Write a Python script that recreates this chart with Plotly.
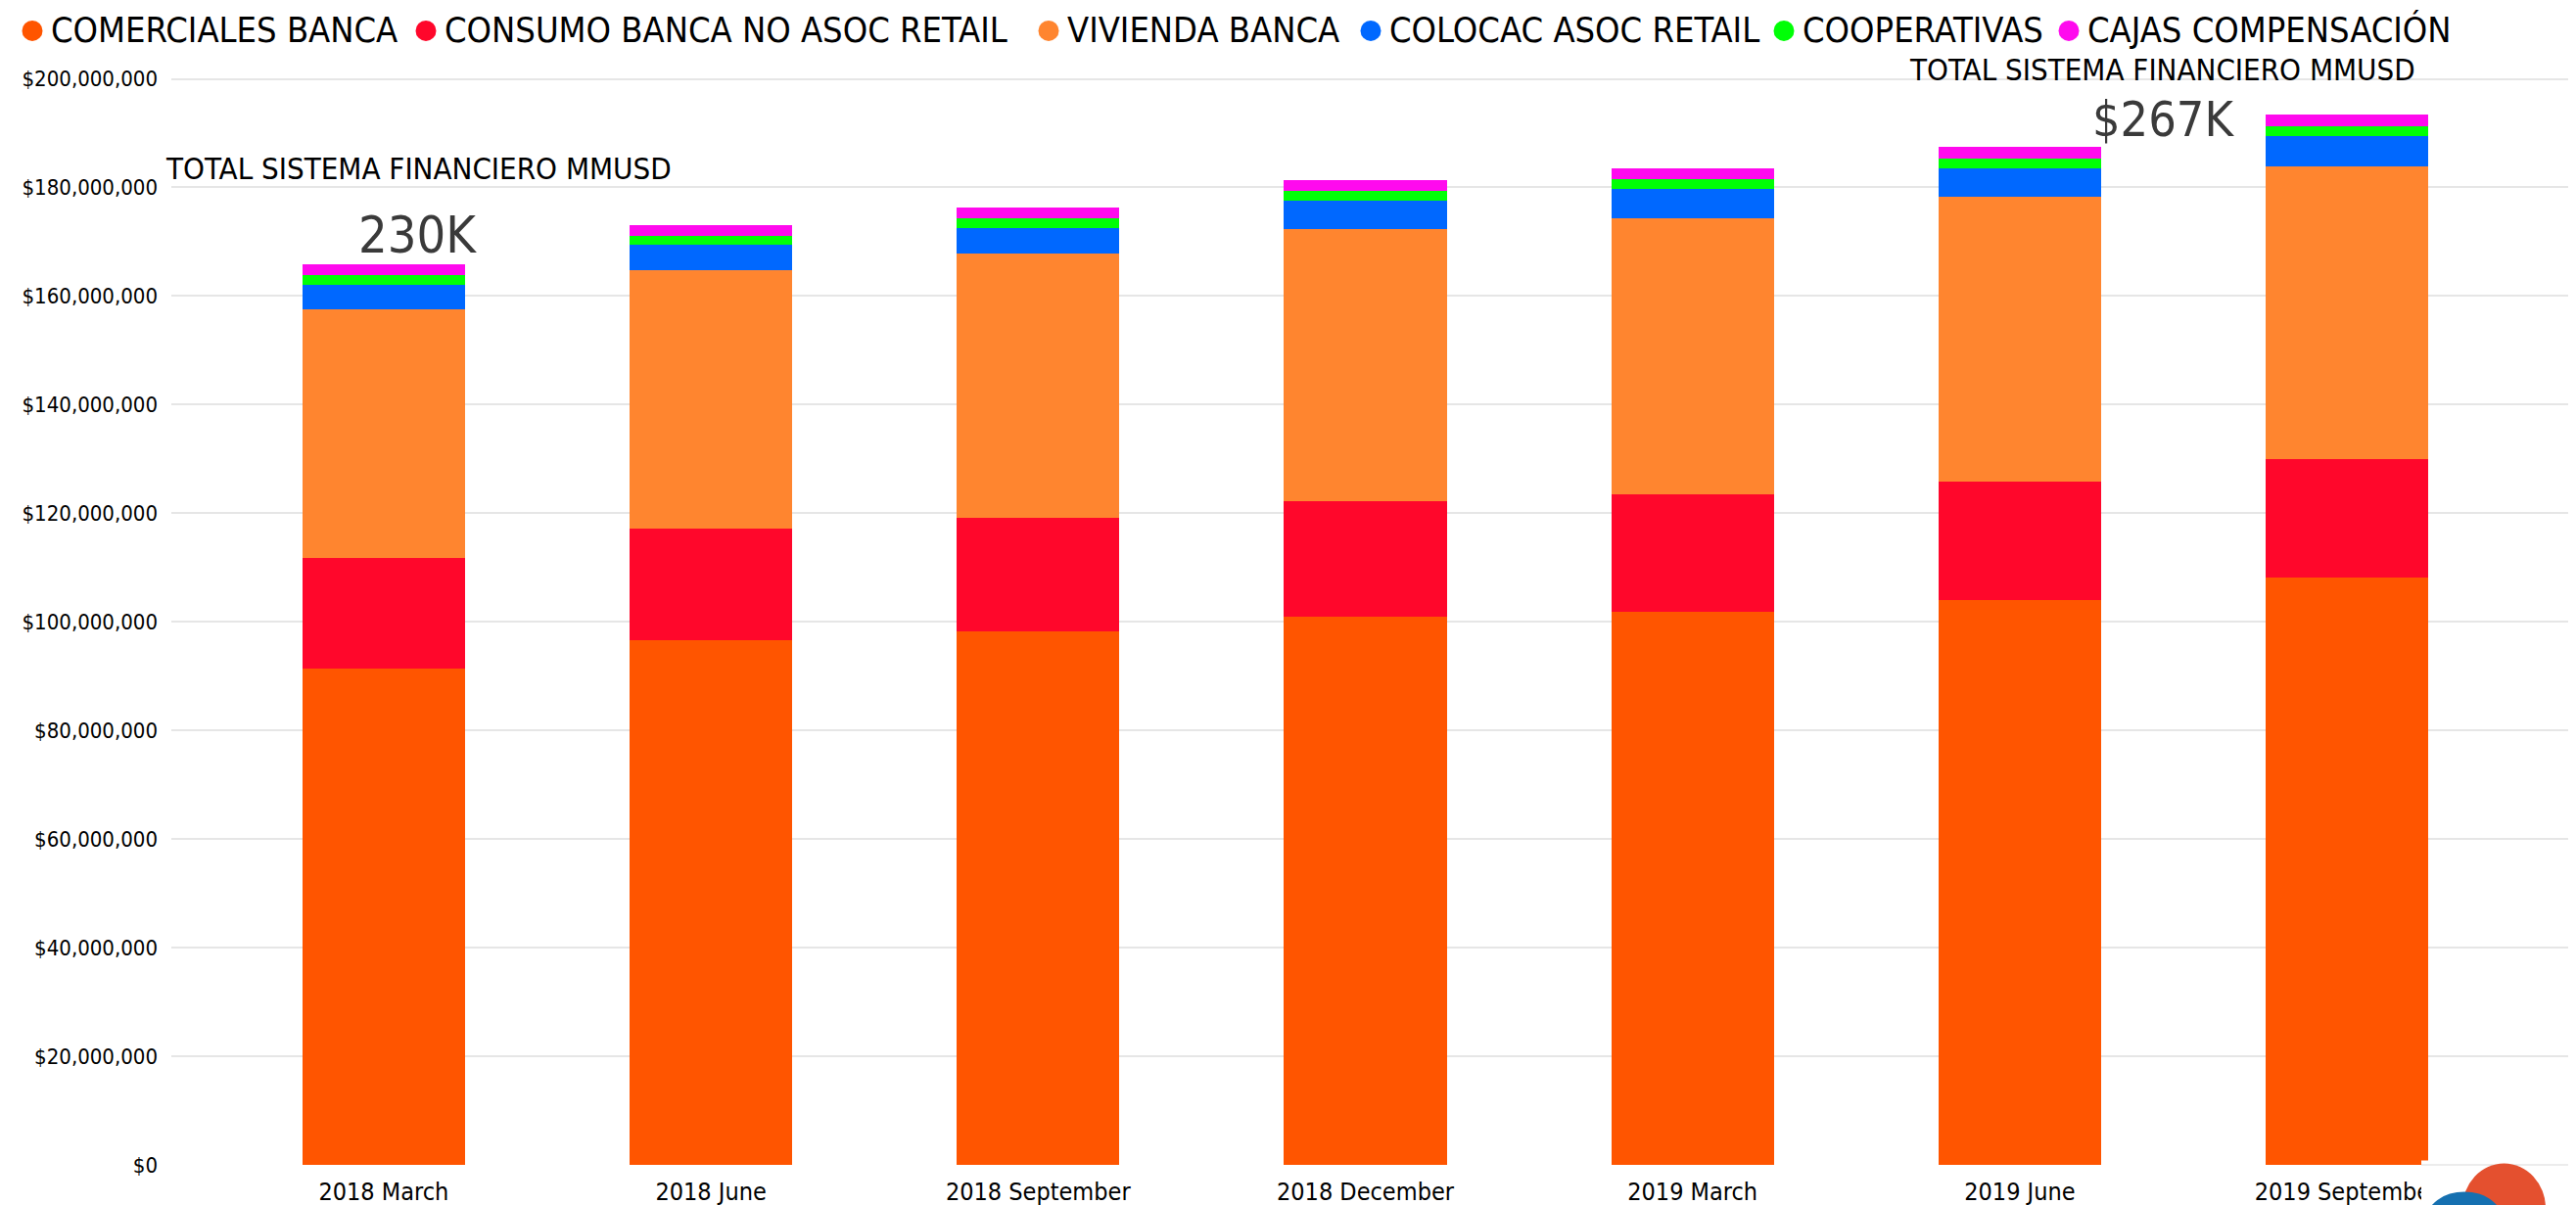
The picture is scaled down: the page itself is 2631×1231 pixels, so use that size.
import plotly.graph_objects as go

categories = ["2018 March", "2018 June", "2018 September", "2018 December",
              "2019 March", "2019 June", "2019 September"]

comerciales_banca = [91.4e6, 96.6e6, 98.3e6, 101.0e6, 101.9e6, 104.0e6, 108.2e6]
consumo_banca_no_asoc_retail = [20.4e6, 20.6e6, 20.9e6, 21.3e6, 21.6e6, 21.9e6, 21.8e6]
vivienda_banca = [45.8e6, 47.6e6, 48.7e6, 50.0e6, 50.8e6, 52.4e6, 53.9e6]
colocac_asoc_retail = [4.5e6, 4.6e6, 4.6e6, 5.2e6, 5.5e6, 5.3e6, 5.6e6]
cooperativas = [1.8e6, 1.7e6, 1.8e6, 1.8e6, 1.8e6, 1.7e6, 1.7e6]
cajas_compensacion = [2.0e6, 2.0e6, 2.0e6, 2.0e6, 2.0e6, 2.2e6, 2.2e6]

series_names = ["COMERCIALES BANCA", "CONSUMO BANCA NO ASOC RETAIL", "VIVIENDA BANCA",
                "COLOCAC ASOC RETAIL", "COOPERATIVAS", "CAJAS COMPENSACIÓN"]
series_values = [comerciales_banca, consumo_banca_no_asoc_retail, vivienda_banca,
                 colocac_asoc_retail, cooperativas, cajas_compensacion]
series_colors = ["#FF5500", "#FF072B", "#FF852F", "#0068FF", "#00FF06", "#FF0AEE"]

label_left_title = "TOTAL SISTEMA FINANCIERO MMUSD"
label_left_value = "230K"
label_right_title = "TOTAL SISTEMA FINANCIERO MMUSD"
label_right_value = "$267K"

FONT = "Liberation Sans Narrow, DejaVu Sans Condensed, Arial Narrow, sans-serif"

W, H = 2631, 1231
L, R = 175, 2623
Y0, YT = 1189.6, 75.1

def px(x):
    return (x - L) / (R - L)

def py(y):
    return (Y0 - y) / (Y0 - YT)

fig = go.Figure()
for name, vals, col in zip(series_names, series_values, series_colors):
    fig.add_trace(go.Bar(x=categories, y=vals, name=name, marker=dict(color=col, line=dict(width=0)),
                         showlegend=False))

fig.update_layout(
    width=W, height=H,
    barmode="stack", bargap=0.503,
    showlegend=False,
    plot_bgcolor="white", paper_bgcolor="white",
    margin=dict(l=L, r=W - R, t=YT, b=H - Y0, pad=0, autoexpand=False),
    font=dict(family=FONT, color="#000000"),
    xaxis=dict(type="category", range=[-0.649, 6.676], showgrid=False, zeroline=False, automargin=False,
               showline=False, ticks="", ticklabelstandoff=10,
               tickfont=dict(size=25, family=FONT, color="#000000")),
    yaxis=dict(range=[0, 201e6], dtick=20e6, tickprefix="$", tickformat=",.0f", automargin=False,
               showgrid=True, gridcolor="#E6E6E6", gridwidth=1.5, zeroline=False,
               showline=False, ticks="", ticklabelstandoff=13,
               tickfont=dict(size=22, family=FONT, color="#000000")),
)

# legend row (circle marker + label), laid out like the original one-line legend
legend_text_x = [50, 452, 1088, 1417, 1839, 2130]
legend_y = 30.5
for name, col, tx in zip(series_names, series_colors, legend_text_x):
    cx = tx - 17
    fig.add_shape(type="circle", xref="paper", yref="paper",
                  x0=px(cx - 10.5), x1=px(cx + 10.5), y0=py(legend_y + 1 - 10.5), y1=py(legend_y + 1 + 10.5),
                  fillcolor=col, line=dict(width=0), layer="above")
    fig.add_annotation(text=name, x=px(tx), y=py(legend_y), xref="paper", yref="paper",
                       xanchor="left", yanchor="middle", showarrow=False,
                       font=dict(size=36, family=FONT, color="#000000"))

ann = [
    dict(text=label_left_title, x=px(427), y=py(172), size=31, color="#000000"),
    dict(text=label_left_value, x=px(426), y=py(240), size=52, color="#3A3A3A"),
    dict(text=label_right_title, x=px(2208), y=py(71), size=31, color="#000000"),
    dict(text=label_right_value, x=px(2209), y=py(122), size=50, color="#3A3A3A"),
]
for a in ann:
    fig.add_annotation(text=a["text"], x=a["x"], y=a["y"], xref="paper", yref="paper",
                       xanchor="center", yanchor="middle", showarrow=False,
                       font=dict(size=a["size"], family=FONT, color=a["color"]))

# logo patch at bottom right
fig.add_shape(type="rect", xref="paper", yref="paper", x0=px(2473), x1=px(2631), y0=py(1185), y1=py(1240),
              fillcolor="white", line=dict(width=0), layer="above")
fig.add_shape(type="line", xref="paper", yref="paper", x0=px(2473), x1=px(2623), y0=py(Y0), y1=py(Y0),
              line=dict(color="#E6E6E6", width=1.5), layer="above")
fig.add_shape(type="circle", xref="paper", yref="paper", x0=px(2515), x1=px(2600), y0=py(1188), y1=py(1280),
              fillcolor="#E4502F", line=dict(width=0), layer="above")
fig.add_shape(type="circle", xref="paper", yref="paper", x0=px(2478), x1=px(2556), y0=py(1217), y1=py(1275),
              fillcolor="#1570B0", line=dict(width=0), layer="above")

fig.write_html("out.html", config={"displayModeBar": False},
               post_script="document.body.style.margin='0';")
